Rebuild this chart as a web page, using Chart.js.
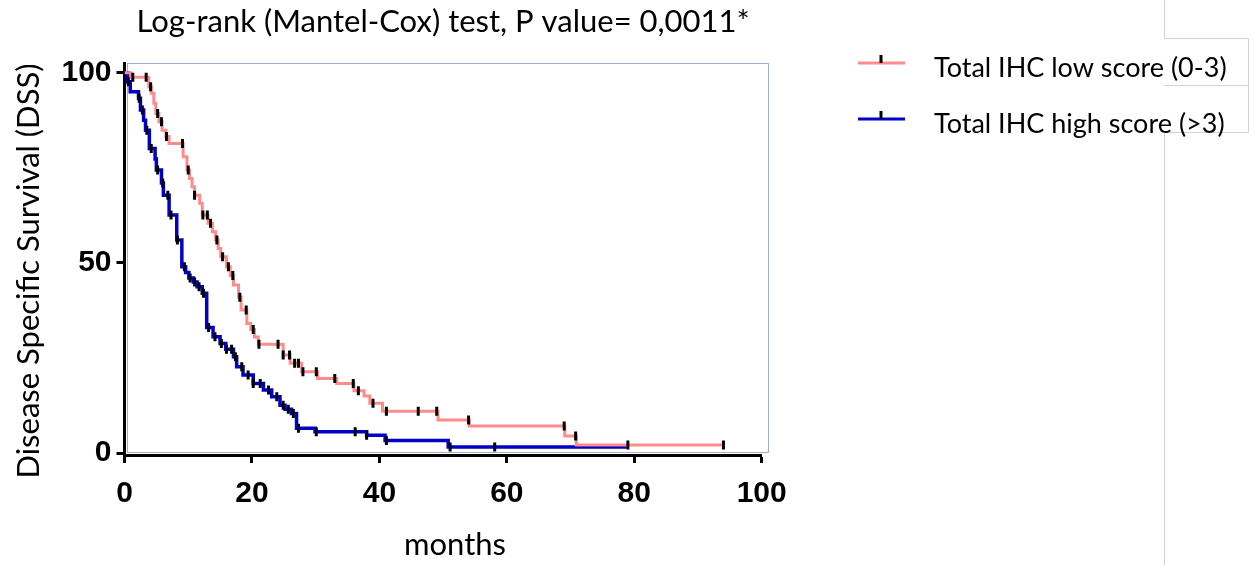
<!DOCTYPE html>
<html>
<head>
<meta charset="utf-8">
<script src="https://cdn.jsdelivr.net/npm/chart.js@4.4.1/dist/chart.umd.min.js"></script>
<style>
  html, body { margin: 0; padding: 0; background: #ffffff; }
  canvas { display: block; }
</style>
</head>
<body>
<canvas id="km" width="1255" height="565"></canvas>
<script>
// ---- texts ----
const chartTitle = 'Log-rank (Mantel-Cox) test, P value= 0,0011*';
const xAxisTitle = 'months';
const yAxisTitle = 'Disease Specific Survival (DSS)';
const seriesNames = ['Total IHC low score (0-3)', 'Total IHC high score (>3)'];
const xTicks = [0, 20, 40, 60, 80, 100];
const yTicks = [0, 50, 100];

// ---- Kaplan-Meier curves: time of each step (months) and survival (%) from that time on ----
const lowTimes = [0, 1.0, 3.8, 4.2, 4.6, 4.9, 5.4, 5.9, 6.5, 7.0,
  9.2, 9.8, 10.2, 10.6, 11.0, 11.8, 12.2, 13.1, 13.8, 14.3,
  14.7, 15.1, 16.0, 16.6, 17.1, 17.9, 18.3, 19.2, 19.8, 20.4,
  21.0, 24.9, 26.0, 27.8, 30.3, 33.3, 36.0, 37.6, 38.5, 40.5,
  49.2, 54.1, 69.1, 70.9, 94.0];
const lowSurvival = [100, 98.8, 96.3, 94.6, 92.0, 89.3, 87.1, 84.9, 83.2, 81.4,
  77.9, 74.4, 72.2, 70.0, 67.8, 65.7, 62.6, 60.4, 58.2, 56.0,
  53.8, 51.6, 49.0, 46.7, 44.2, 41.0, 37.6, 34.1, 32.5, 30.5,
  28.6, 25.8, 23.6, 21.4, 19.6, 18.3, 16.4, 15.0, 13.1, 11.0,
  8.7, 7.1, 4.5, 2.1, 2.1];
const lowCensored = [1.3, 3.4, 4.1, 5.2, 5.8, 6.6, 9.1, 10.0, 11.0, 12.3,
  13.0, 13.5, 14.5, 15.4, 16.3, 17.0, 18.1, 19.1, 20.2, 21.1,
  24.1, 24.9, 25.9, 26.7, 27.3, 28.0, 30.1, 33.0, 35.9, 36.7,
  39.0, 41.1, 46.1, 49.0, 54.0, 69.0, 70.8, 79.0, 94.0];

const highTimes = [0, 0.5, 0.9, 2.2, 2.5, 3.0, 3.3, 3.9, 4.8, 5.0,
  5.8, 6.1, 7.0, 8.2, 9.0, 9.6, 10.1, 10.8, 11.4, 12.2,
  12.9, 13.9, 15.0, 15.9, 17.1, 17.6, 18.6, 20.2, 21.8, 23.1,
  24.4, 25.2, 26.2, 27.0, 29.9, 38.0, 40.9, 50.8, 78.8];
const highSurvival = [100, 97.6, 95.0, 93.3, 90.2, 87.5, 84.9, 80.1, 77.3, 74.4,
  71.0, 67.8, 62.6, 56.0, 49.0, 47.5, 46.0, 45.0, 43.7, 42.0,
  33.0, 30.6, 28.8, 27.3, 25.3, 22.7, 20.5, 18.3, 16.6, 14.8,
  12.6, 11.5, 10.4, 6.5, 5.6, 4.7, 3.3, 1.6, 1.6];
const highCensored = [0.6, 2.3, 2.8, 3.5, 4.2, 5.2, 6.0, 6.8, 7.3, 8.3,
  9.4, 10.3, 11.0, 11.7, 12.4, 13.2, 14.2, 15.2, 16.0, 16.8,
  17.4, 18.4, 19.4, 20.2, 21.3, 22.6, 23.9, 24.9, 25.7, 26.5,
  27.3, 30.1, 36.2, 38.0, 41.1, 51.1, 58.1];

// ---- colours ----
const lowColor = '#ff8c8c';
const highColor = '#0000c8';
const censorColor = '#000000';

// ---- helpers ----
const toPoints = (xs, ys) => xs.map((x, i) => ({ x, y: ys[i] }));
// survival level of a step curve at time t
function survivalAt(times, surv, t) {
  let s = surv[0];
  for (let i = 0; i < times.length; i++) {
    if (times[i] <= t + 1e-9) s = surv[i]; else break;
  }
  return s;
}
const censorPoints = (times, surv, cens) => cens.map(t => ({ x: t, y: survivalAt(times, surv, t) }));

const textFont = 'Lato, "Open Sans", sans-serif';
const tickFont = { family: '"Liberation Sans", Arial, sans-serif', size: 30, weight: 'bold' };

// frame, axis titles, legend and the panel rules on the right
const decorPlugin = {
  id: 'decor',
  beforeDatasetsDraw(chart) {
    const { ctx, chartArea: a } = chart;
    ctx.save();
    ctx.strokeStyle = '#9fb0cc';
    ctx.lineWidth = 1;
    ctx.strokeRect(Math.round(a.left) + 2.5, Math.round(a.top) + 0.5,
      Math.round(a.right - a.left) + 4, Math.round(a.bottom - a.top) - 3);
    ctx.restore();
  },
  afterDraw(chart) {
    const { ctx } = chart;
    ctx.save();

    // panel rules
    ctx.strokeStyle = '#d2d2d2';
    ctx.lineWidth = 1;
    ctx.beginPath();
    ctx.moveTo(1164.5, 0); ctx.lineTo(1164.5, 38.5); ctx.lineTo(1248.5, 38.5);
    ctx.lineTo(1248.5, 132.5); ctx.lineTo(1164.5, 132.5); ctx.lineTo(1164.5, 565);
    ctx.moveTo(1164.5, 85.5); ctx.lineTo(1248.5, 85.5);
    ctx.stroke();

    ctx.fillStyle = '#000';

    // axis titles
    ctx.font = '31px ' + textFont;
    ctx.textAlign = 'center';
    ctx.textBaseline = 'middle';
    ctx.fillText(xAxisTitle, 455, 545);
    ctx.save();
    ctx.translate(29, 271);
    ctx.rotate(-Math.PI / 2);
    ctx.fillText(yAxisTitle, 0, 0);
    ctx.restore();

    // legend
    const rows = [
      { ds: chart.data.datasets[2], y: 63 },
      { ds: chart.data.datasets[3], y: 119 }
    ];
    ctx.font = '27px ' + textFont;
    ctx.textAlign = 'left';
    ctx.textBaseline = 'alphabetic';
    rows.forEach(r => {
      ctx.strokeStyle = r.ds.borderColor;
      ctx.lineWidth = 3;
      ctx.beginPath();
      ctx.moveTo(858, r.y);
      ctx.lineTo(905, r.y);
      ctx.stroke();
      ctx.strokeStyle = censorColor;
      ctx.beginPath();
      ctx.moveTo(881, r.y - 8);
      ctx.lineTo(881, r.y);
      ctx.stroke();
      ctx.fillStyle = '#000';
      ctx.fillText(r.ds.label, 934, r.y + 14);
    });
    ctx.restore();
  }
};

function build() {
  new Chart(document.getElementById('km'), {
    type: 'line',
    data: {
      datasets: [
        {
          label: 'low score censored',
          data: censorPoints(lowTimes, lowSurvival, lowCensored),
          showLine: false,
          pointStyle: 'line',
          rotation: 90,
          radius: 4.5,
          borderWidth: 3,
          borderColor: censorColor,
          order: 0
        },
        {
          label: 'high score censored',
          data: censorPoints(highTimes, highSurvival, highCensored),
          showLine: false,
          pointStyle: 'line',
          rotation: 90,
          radius: 4.5,
          borderWidth: 3,
          borderColor: censorColor,
          order: 0
        },
        {
          label: seriesNames[0],
          data: toPoints(lowTimes, lowSurvival),
          stepped: true,
          borderColor: lowColor,
          borderWidth: 3,
          pointRadius: 0,
          fill: false,
          order: 1
        },
        {
          label: seriesNames[1],
          data: toPoints(highTimes, highSurvival),
          stepped: true,
          borderColor: highColor,
          borderWidth: 3.5,
          pointRadius: 0,
          fill: false,
          order: 2
        }
      ]
    },
    options: {
      responsive: false,
      animation: false,
      events: [],
      layout: { padding: { left: 0, right: 493.3, top: 0, bottom: 0 } },
      plugins: {
        legend: { display: false },
        tooltip: { enabled: false },
        title: {
          display: true,
          text: chartTitle,
          fullSize: false,
          color: '#000',
          font: { family: textFont, size: 31, weight: 'normal', lineHeight: 1.2 },
          padding: { top: 3, bottom: 23 }
        }
      },
      scales: {
        x: {
          type: 'linear',
          min: 0,
          max: 100,
          afterBuildTicks: s => { s.ticks = xTicks.map(v => ({ value: v })); },
          afterFit: s => { s.height = 110; },
          border: { display: true, color: '#000', width: 3 },
          grid: { drawOnChartArea: false, drawTicks: true, tickLength: 8, tickColor: '#000', tickWidth: 3 },
          ticks: { color: '#000', font: tickFont, padding: 13, maxRotation: 0 }
        },
        y: {
          type: 'linear',
          min: -0.5,
          max: 102.5,
          afterBuildTicks: s => { s.ticks = yTicks.map(v => ({ value: v })); },
          afterFit: s => { s.width = 124.5; },
          border: { display: true, color: '#000', width: 3 },
          grid: { drawOnChartArea: false, drawTicks: true, tickLength: 8, tickColor: '#000', tickWidth: 3 },
          ticks: { color: '#000', font: tickFont, padding: 5 }
        }
      }
    },
    plugins: [decorPlugin]
  });
}

Promise.all([
  document.fonts.load('31px Lato'),
  document.fonts.load('bold 30px "Liberation Sans"')
]).catch(() => {}).then(build);
</script>
</body>
</html>
